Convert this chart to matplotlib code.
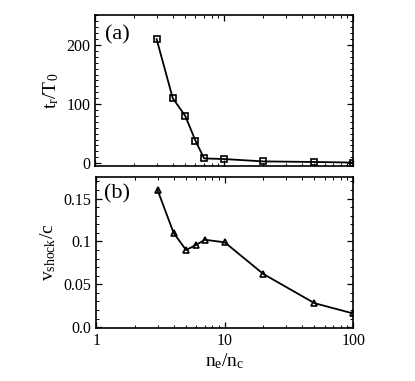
import matplotlib
matplotlib.use("Agg")
import matplotlib.pyplot as plt
from matplotlib.ticker import MultipleLocator, LogLocator, NullFormatter, FixedLocator

plt.rcParams['font.family'] = ['Liberation Serif', 'DejaVu Serif']
plt.rcParams['mathtext.fontset'] = 'stix'

density = [3, 4, 5, 6, 7, 10, 20, 50, 100]
t_r = [210, 110, 80, 38, 8, 7, 3, 2, 1]
v_shock = [0.160, 0.110, 0.090, 0.096, 0.102, 0.099, 0.062, 0.028, 0.016]

fig = plt.figure(figsize=(4.15, 3.81), dpi=100)
ax1 = fig.add_axes([0.229, 0.564, 0.622, 0.397])
ax2 = fig.add_axes([0.232, 0.139, 0.619, 0.396])

ax1.plot(density, t_r, color='black', lw=1.3, marker='s', ms=5,
         mfc='none', mec='black', mew=1.2)
ax2.plot(density, v_shock, color='black', lw=1.3, marker='^', ms=5,
         mfc='none', mec='black', mew=1.2)

for ax in (ax1, ax2):
    ax.set_xscale('log')
    ax.set_xlim(1, 100)
    ax.xaxis.set_major_locator(LogLocator(base=10, numticks=5))
    ax.xaxis.set_minor_locator(LogLocator(base=10, subs=range(2, 10), numticks=20))
    ax.xaxis.set_minor_formatter(NullFormatter())
    ax.tick_params(which='both', direction='in', top=True, right=True, labelsize=11.5)
    ax.tick_params(which='major', length=4, width=0.9)
    ax.tick_params(which='minor', length=2, width=0.7)
    for s in ax.spines.values():
        s.set_linewidth(1.2)

ax1.set_ylim(-5, 251)
ax1.yaxis.set_major_locator(FixedLocator([0, 100, 200]))
ax1.yaxis.set_minor_locator(MultipleLocator(10))
ax1.tick_params(axis='x', labelbottom=False)
ax1.set_ylabel(r'$\mathregular{t_r/T_0}$', fontsize=14, labelpad=4)
ax1.text(0.04, 0.93, '(a)', transform=ax1.transAxes, fontsize=16, va='top')

ax2.set_ylim(-0.001, 0.175)
ax2.set_yticks([0.0, 0.05, 0.1, 0.15])
ax2.set_yticklabels(['0.0', '0.05', '0.1', '0.15'])
ax2.yaxis.set_minor_locator(MultipleLocator(0.01))
ax2.set_xticks([1, 10, 100])
ax2.set_xticklabels(['1', '10', '100'])
ax2.set_ylabel(r'$\mathregular{v_{shock}/c}$', fontsize=14, labelpad=4)
ax2.set_xlabel(r'$\mathregular{n_e/n_c}$', fontsize=14, labelpad=2)
ax2.text(0.03, 0.95, '(b)', transform=ax2.transAxes, fontsize=16, va='top')

fig.savefig('out.png', dpi=100)
